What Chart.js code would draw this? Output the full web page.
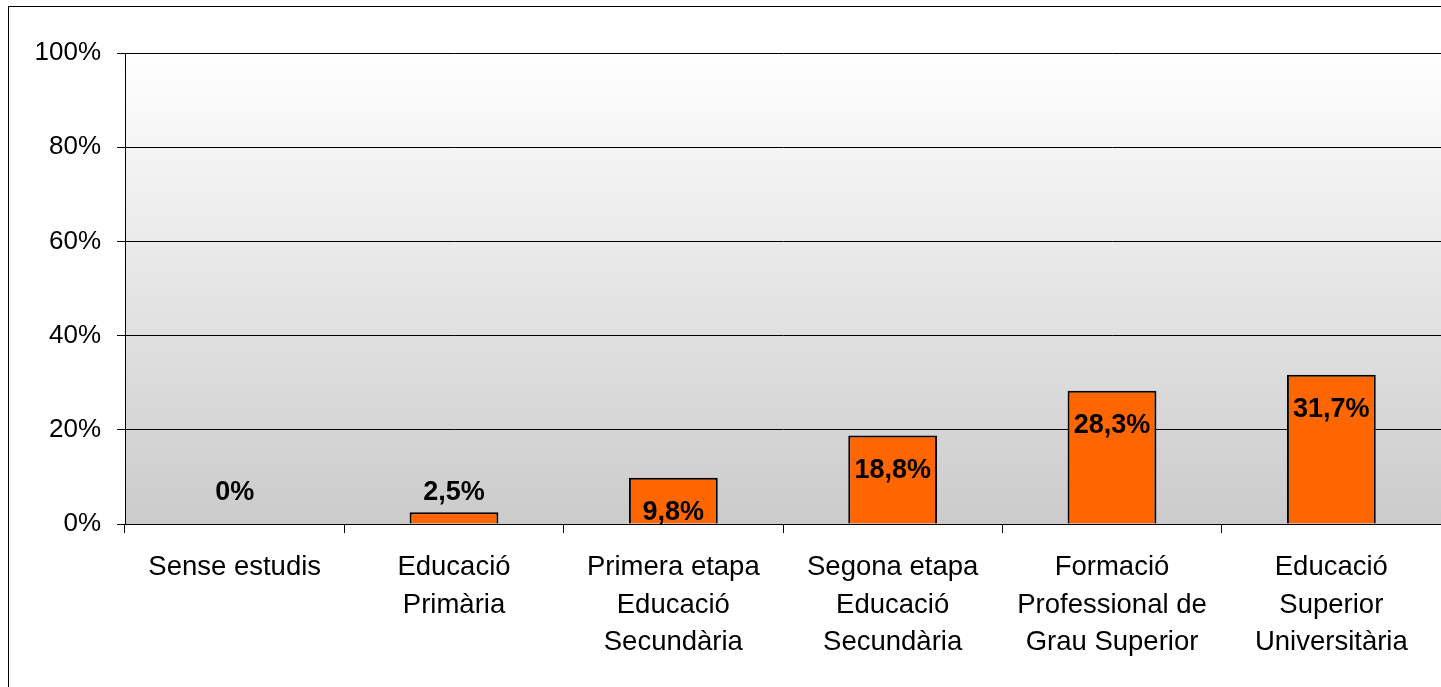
<!DOCTYPE html>
<html>
<head>
<meta charset="utf-8">
<script src="https://cdn.jsdelivr.net/npm/chart.js@4.4.1/dist/chart.umd.min.js"></script>
<style>
  html, body { margin: 0; padding: 0; background: #fff; overflow: hidden; }
  #wrap { position: absolute; left: 0; top: 0; width: 1441px; height: 687px; }
</style>
</head>
<body>
<div id="wrap"><canvas id="c" width="1441" height="687"></canvas></div>
<script>
const categories = [
  "Sense estudis",
  ["Educació", "Primària"],
  ["Primera etapa", "Educació", "Secundària"],
  ["Segona etapa", "Educació", "Secundària"],
  ["Formació", "Professional de", "Grau Superior"],
  ["Educació", "Superior", "Universitària"]
];
const values = [0, 2.5, 9.8, 18.8, 28.3, 31.7];
const valueLabels = ["0%", "2,5%", "9,8%", "18,8%", "28,3%", "31,7%"];
const yTicks = [0, 20, 40, 60, 80, 100];

const FONT = "'Liberation Sans', Arial, sans-serif";

const frame = {
  id: 'frame',
  beforeDraw(chart) {
    const ctx = chart.ctx;
    const a = chart.chartArea;
    ctx.save();
    ctx.fillStyle = '#fff';
    ctx.fillRect(0, 0, chart.width, chart.height);
    const g = ctx.createLinearGradient(0, a.top, 0, a.bottom);
    g.addColorStop(0, '#ffffff');
    g.addColorStop(1, '#cbcbcb');
    ctx.fillStyle = g;
    ctx.fillRect(a.left, a.top, a.right - a.left, a.bottom - a.top);
    ctx.strokeStyle = '#000';
    ctx.lineWidth = 1;
    ctx.strokeRect(8.5, 6.5, 3000, 3000);
    ctx.restore();
  }
};

const labelsPlugin = {
  id: 'valLabels',
  afterDatasetsDraw(chart) {
    const ctx = chart.ctx;
    const meta = chart.getDatasetMeta(0);
    const base = chart.scales.y.getPixelForValue(0);
    ctx.save();
    ctx.font = "bold 27px " + FONT;
    ctx.fillStyle = '#000';
    ctx.textAlign = 'center';
    ctx.textBaseline = 'middle';
    meta.data.forEach((bar, i) => {
      const h = base - bar.y;
      let y;
      if (h >= 40) y = bar.y + 35;
      else y = Math.min(bar.y - 20, base - 31);
      ctx.fillText(valueLabels[i], bar.x, y);
    });
    ctx.restore();
  }
};

new Chart(document.getElementById('c'), {
  type: 'bar',
  data: {
    labels: categories,
    datasets: [{
      data: values,
      backgroundColor: '#FF6600',
      borderColor: '#000',
      borderWidth: 2,
      barPercentage: 0.405,
      categoryPercentage: 1.0
    }]
  },
  options: {
    responsive: false,
    animation: false,
    devicePixelRatio: 1,
    layout: { padding: { left: 0, right: 0, top: 53, bottom: 0 } },
    plugins: { legend: { display: false }, tooltip: { enabled: false } },
    scales: {
      x: {
        offset: true,
        grid: {
          offset: true,
          drawOnChartArea: false,
          drawTicks: true,
          tickLength: 9,
          color: '#000',
          lineWidth: 1
        },
        border: { display: true, color: '#000', width: 1 },
        ticks: {
          color: '#000',
          font: { family: FONT, size: 27.5, lineHeight: 1.36 },
          padding: 16,
          maxRotation: 0,
          autoSkip: false
        },
        afterFit(scale) { scale.height = 163; }
      },
      y: {
        min: 0,
        max: 100,
        afterBuildTicks(scale) { scale.ticks = yTicks.map(v => ({ value: v })); },
        grid: {
          color: '#000',
          lineWidth: 1,
          tickLength: 8,
          drawTicks: true
        },
        border: { display: true, color: '#000', width: 1 },
        ticks: {
          color: '#000',
          font: { family: FONT, size: 26 },
          padding: 16,
          callback: v => v + '%'
        },
        afterFit(scale) { scale.width = 125; }
      }
    }
  },
  plugins: [frame, labelsPlugin]
});
</script>
</body>
</html>
